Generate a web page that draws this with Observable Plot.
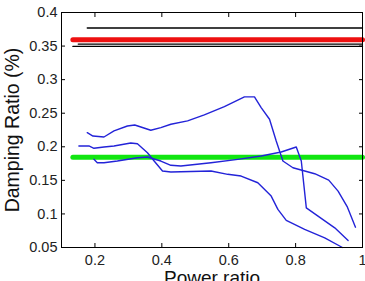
<!DOCTYPE html>
<html>
<head>
<meta charset="utf-8">
<script src="https://cdn.jsdelivr.net/npm/d3@7"></script>
<script src="https://cdn.jsdelivr.net/npm/@observablehq/plot@0.6"></script>
<style>
  html, body { margin: 0; padding: 0; background: #fff; }
</style>
</head>
<body>
<div id="chart"></div>
<script>
// Axis ticks
const xTicks = [0.2, 0.4, 0.6, 0.8, 1];
const yTicks = [0.05, 0.1, 0.15, 0.2, 0.25, 0.3, 0.35, 0.4];

// Blue curves (power ratio, damping ratio)
const curveA_x = [0.177, 0.194, 0.227, 0.257, 0.297, 0.319, 0.367, 0.397, 0.427, 0.477, 0.527, 0.587, 0.647, 0.677, 0.697, 0.722, 0.742, 0.762, 0.792, 0.857, 0.899, 0.927, 0.955, 0.979];
const curveA_y = [0.221, 0.216, 0.2146, 0.2236, 0.231, 0.2325, 0.2246, 0.2285, 0.2336, 0.2385, 0.2475, 0.2599, 0.2743, 0.2743, 0.2584, 0.241, 0.2087, 0.1788, 0.1688, 0.1599, 0.1504, 0.134, 0.1101, 0.0803];

const curveB_x = [0.152, 0.182, 0.197, 0.227, 0.257, 0.307, 0.327, 0.357, 0.377, 0.402, 0.427, 0.547, 0.597, 0.637, 0.687, 0.727, 0.747, 0.772, 0.827, 0.887, 0.94];
const curveB_y = [0.2012, 0.2012, 0.1978, 0.1997, 0.2012, 0.2057, 0.2046, 0.1912, 0.1788, 0.1639, 0.1624, 0.1639, 0.159, 0.1564, 0.1464, 0.1266, 0.1067, 0.0903, 0.0769, 0.0643, 0.05];

const curveC_x = [0.197, 0.207, 0.227, 0.267, 0.327, 0.357, 0.397, 0.427, 0.457, 0.547, 0.627, 0.697, 0.757, 0.802, 0.817, 0.832, 0.867, 0.917, 0.957];
const curveC_y = [0.1813, 0.1763, 0.1763, 0.1788, 0.1837, 0.1848, 0.1788, 0.1724, 0.1713, 0.1763, 0.1813, 0.1863, 0.1922, 0.1997, 0.1788, 0.1091, 0.0967, 0.0793, 0.0604];

// Horizontal reference levels
const blackLevels = [0.3769, 0.353, 0.3494];
const blackStarts = [0.177, 0.15, 0.134];
const redLevel = 0.3596;
const redStart = 0.134;
const greenLevel = 0.1845;
const greenStart = 0.134;
const levelEnd = 1;

const toPts = (xs, ys) => xs.map((x, i) => ({x, y: ys[i]}));
const seg = (x0, x1, y) => [{x: x0, y}, {x: x1, y}];

const fontFam = "'Liberation Sans', Arial, Helvetica, sans-serif";

const marks = [];
blackLevels.forEach((lv, i) => {
  marks.push(Plot.line(seg(blackStarts[i], levelEnd, lv), {x: "x", y: "y", stroke: "#000", strokeWidth: 1.3}));
});
marks.push(Plot.line(seg(redStart, levelEnd, redLevel), {x: "x", y: "y", stroke: "#ee1111", strokeWidth: 5}));
marks.push(Plot.line(seg(greenStart, levelEnd, greenLevel), {x: "x", y: "y", stroke: "#11e611", strokeWidth: 5}));
[[curveA_x, curveA_y], [curveB_x, curveB_y], [curveC_x, curveC_y]].forEach(([xs, ys]) => {
  marks.push(Plot.line(toPts(xs, ys), {x: "x", y: "y", stroke: "#2323d8", strokeWidth: 1.4}));
});

// Axes: labels outside, ticks inward on all four sides
marks.push(Plot.axisX(xTicks, {anchor: "bottom", tickSize: 0, tickPadding: 7, label: null, tickFormat: d => String(d), fontSize: 14.5, fill: "#222"}));
marks.push(Plot.axisY(yTicks, {anchor: "left", tickSize: 0, tickPadding: 4, label: null, tickFormat: d => String(d), fontSize: 14.5, fill: "#222"}));
marks.push(Plot.axisX(xTicks, {anchor: "bottom", tickSize: -4, tickFormat: () => "", label: null}));
marks.push(Plot.axisX(xTicks, {anchor: "top", tickSize: -4, tickFormat: () => "", label: null}));
marks.push(Plot.axisY(yTicks, {anchor: "left", tickSize: -4, tickFormat: () => "", label: null}));
marks.push(Plot.axisY(yTicks, {anchor: "right", tickSize: -4, tickFormat: () => "", label: null}));
marks.push(Plot.frame({stroke: "#000", strokeWidth: 1}));

// Axis titles
marks.push(Plot.text(["Power ratio"], {frameAnchor: "bottom", dy: 30, lineAnchor: "middle", textAnchor: "middle", text: d => d, fontSize: 19, fill: "#111"}));
marks.push(Plot.text(["Damping Ratio (%)"], {frameAnchor: "left", dx: -48.5, rotate: -90, lineAnchor: "middle", textAnchor: "middle", text: d => d, fontSize: 19.5, fill: "#111"}));

const chart = Plot.plot({
  width: 365,
  height: 281,
  marginLeft: 61,
  marginRight: 3,
  marginTop: 12,
  marginBottom: 34,
  x: {domain: [0.1, 1], axis: null},
  y: {domain: [0.05, 0.4], axis: null},
  style: {fontFamily: fontFam, fontSize: "14.5px", background: "#fff", color: "#000", overflow: "visible"},
  marks
});
document.getElementById("chart").appendChild(chart);
</script>
</body>
</html>
